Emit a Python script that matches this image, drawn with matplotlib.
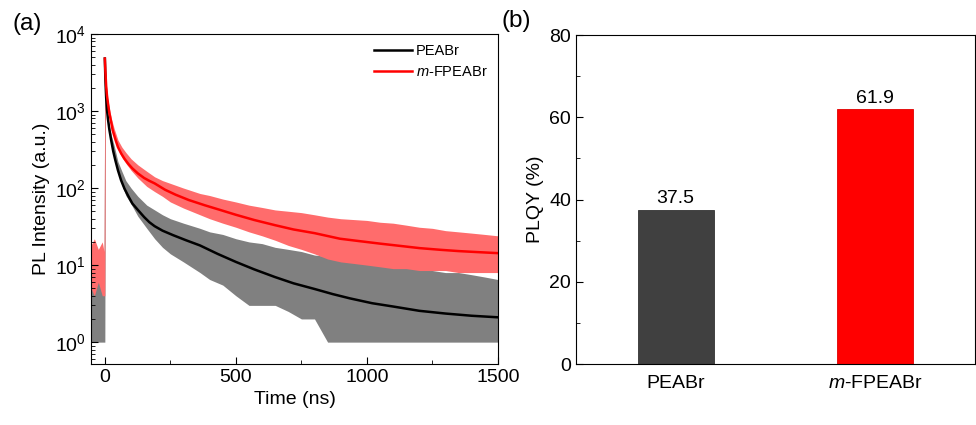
import matplotlib
matplotlib.use("Agg")
import matplotlib.pyplot as plt
from matplotlib.ticker import MultipleLocator, LogLocator, NullFormatter

plt.rcParams["font.family"] = ["Liberation Sans", "DejaVu Sans"]
plt.rcParams["mathtext.fontset"] = "custom"
plt.rcParams["mathtext.rm"] = "Liberation Sans"
plt.rcParams["mathtext.it"] = "Liberation Sans:italic"

# ---- (a) TRPL decay ----
# fitted curves
t_fit_peabr = [0, 2, 5, 8, 12, 17, 24, 32, 40, 50, 62, 75, 90, 105, 126, 150, 170, 190, 220, 260, 310,
               363, 430, 500, 570, 649, 720, 800, 870, 935, 1020, 1100, 1200, 1300, 1400, 1500]
fit_peabr = [4800, 2600, 1500, 1050, 780, 580, 420, 300, 230, 170, 126, 98, 78, 63, 52, 42, 36, 32, 28,
             24.5, 21, 18, 14, 11, 8.8, 7.0, 5.8, 4.9, 4.2, 3.7, 3.2, 2.9, 2.55, 2.35, 2.2, 2.1]

t_fit_mf = [0, 2, 5, 8, 12, 17, 24, 30, 40, 50, 62, 75, 90, 105, 126, 150, 170, 190, 230, 270, 320, 380,
            440, 500, 570, 649, 720, 800, 897, 970, 1050, 1130, 1202, 1280, 1350, 1430, 1500]
fit_mf = [4800, 3300, 2100, 1600, 1250, 950, 720, 560, 430, 340, 282, 240, 205, 180, 155, 135, 124, 115,
          95, 82, 70, 60, 52, 45, 38.5, 33, 29, 26, 22, 20.5, 19, 17.7, 16.6, 15.8, 15.2, 14.7, 14.3]

# raw traces, as upper / lower envelope of the noise
t_raw = [-53, -40, -25, -10, -3, 0, 2, 5, 10, 17, 25, 35, 50, 65, 80, 100, 126, 160, 190, 220, 250, 300,
         363, 400, 450, 500, 550, 600, 650, 700, 750, 800, 850, 900, 950, 1000, 1050, 1100, 1150, 1200,
         1250, 1300, 1350, 1400, 1450, 1500]
raw_peabr_hi = [7, 6, 8, 5, 7, 5000, 2900, 1700, 930, 650, 480, 360, 220, 165, 125, 100, 78, 60, 52, 45,
                40, 35, 30, 27, 25, 22, 20, 19, 17, 16, 15, 13.5, 13, 12, 11.7, 11, 10.5, 10, 9.5, 9,
                8.5, 8, 8, 7.5, 7, 6.5]
raw_peabr_lo = [1, 1, 1, 1, 1, 1, 2000, 1100, 700, 500, 370, 270, 160, 110, 80, 62, 43, 30, 22, 17,
                14, 11, 8, 6.5, 5.5, 4, 3, 3, 3, 2.5, 2, 2, 1, 1, 1, 1, 1, 1, 1, 1,
                1, 1, 1, 1, 1, 1]
raw_mf_hi = [18, 22, 16, 20, 15, 5000, 3700, 2400, 1500, 1100, 800, 600, 420, 340, 290, 240, 200, 165,
             140, 125, 115, 100, 85, 80, 72, 66, 60, 56, 52, 50, 48, 45, 42, 40, 39, 38, 36, 35, 33, 31,
             30, 28, 27, 26, 25, 24]
raw_mf_lo = [5, 4, 6, 4, 4, 4, 2900, 1850, 1150, 830, 620, 460, 320, 250, 210, 170, 135, 105, 90, 78,
             66, 55, 45, 40, 35, 31, 27, 24, 21, 18, 16, 14, 12, 11, 10.5, 10, 9.5, 9, 9, 8.5,
             8.5, 8.5, 8, 8, 8, 8]

# ---- (b) PLQY ----
samples = ["PEABr", r"$\mathit{m}$-FPEABr"]
plqy = [37.5, 61.9]
bar_colors = ["#404040", "#ff0000"]

fig = plt.figure(figsize=(9.76, 4.25), dpi=100)

ax1 = fig.add_axes([0.0932, 0.1435, 0.417, 0.7765])
ax1.fill_between(t_raw, raw_peabr_lo, raw_peabr_hi, color="#808080", lw=0)
ax1.fill_between(t_raw, raw_mf_lo, raw_mf_hi, color="#ff6c6c", lw=0)
ax1.plot(t_fit_peabr, fit_peabr, color="black", lw=1.8, label="PEABr")
ax1.plot(t_fit_mf, fit_mf, color="#ff0000", lw=1.8, label=r"$\mathit{m}$-FPEABr")
ax1.set_yscale("log")
ax1.set_xlim(-53, 1500)
ax1.set_ylim(0.52, 1e4)
ax1.xaxis.set_major_locator(MultipleLocator(500))
ax1.xaxis.set_minor_locator(MultipleLocator(250))
ax1.yaxis.set_major_locator(LogLocator(base=10, numticks=10))
ax1.yaxis.set_minor_locator(LogLocator(base=10, subs=range(2, 10), numticks=20))
ax1.yaxis.set_minor_formatter(NullFormatter())
ax1.tick_params(which="both", direction="in", labelsize=14)
ax1.tick_params(which="major", length=5)
ax1.tick_params(which="minor", length=3)
ax1.set_xlabel("Time (ns)", fontsize=14)
ax1.set_ylabel("PL Intensity (a.u.)", fontsize=14)
ax1.legend(loc="upper right", frameon=False, fontsize=10.5, handlelength=2.6,
           labelspacing=0.45, handletextpad=0.3, borderaxespad=0.3)

ax2 = fig.add_axes([0.590, 0.1435, 0.409, 0.774])
x = [0, 1]
ax2.bar(x, plqy, width=0.38, color=bar_colors, edgecolor=["#333333", "#e00000"], lw=0.6)
for xi, v in zip(x, plqy):
    ax2.text(xi, v + 0.6, f"{v}", ha="center", va="bottom", fontsize=14)
ax2.set_xlim(-0.5, 1.5)
ax2.set_ylim(0, 80)
ax2.set_xticks(x)
ax2.set_xticklabels(samples)
ax2.yaxis.set_major_locator(MultipleLocator(20))
ax2.yaxis.set_minor_locator(MultipleLocator(10))
ax2.tick_params(axis="x", length=0, labelsize=14, pad=8)
ax2.tick_params(axis="y", which="both", direction="in", labelsize=14)
ax2.tick_params(axis="y", which="major", length=5)
ax2.tick_params(axis="y", which="minor", length=3)
ax2.set_ylabel("PLQY (%)", fontsize=14)

fig.text(0.0133, 0.944, "(a)", fontsize=17.5, va="center")
fig.text(0.514, 0.951, "(b)", fontsize=17.5, va="center")

fig.savefig("out.png", dpi=100)
